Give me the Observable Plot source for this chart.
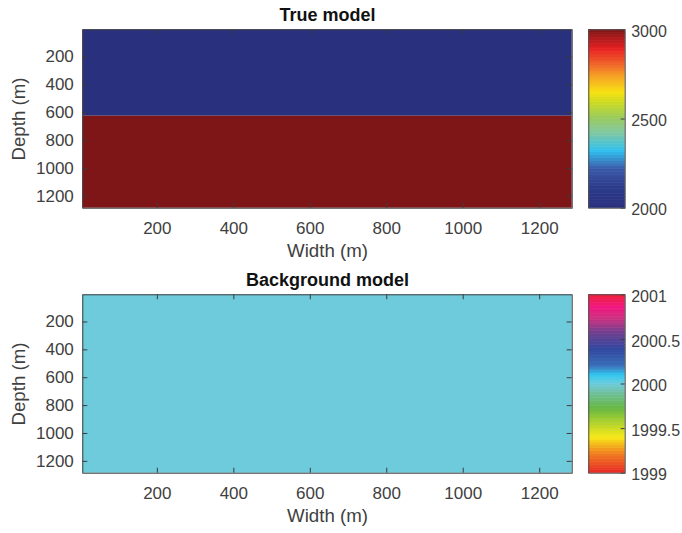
<!DOCTYPE html>
<html>
<head>
<meta charset="utf-8">
<script src="https://cdn.jsdelivr.net/npm/d3@7"></script>
<script src="https://cdn.jsdelivr.net/npm/@observablehq/plot@0.6"></script>
<style>
  html, body { margin: 0; padding: 0; background: #fff; }
  #chart { position: relative; width: 682px; height: 533px; overflow: hidden; font-family: "Liberation Sans", Arial, sans-serif; }
  #chart > svg { position: absolute; }
</style>
</head>
<body>
<div id="chart"></div>
<script>
// ---------- data ----------
const xMin = 5, xMax = 1285;          // grid extent, width (m)
const yMin = 5, yMax = 1285;          // grid extent, depth (m)
const xTicks = [200, 400, 600, 800, 1000, 1200];
const yTicks = [200, 400, 600, 800, 1000, 1200];

// True model: two layers
const trueTops = [5, 625];
const trueBottoms = [625, 1285];
const trueVelocity = [2000, 3000];

// Background model: one homogeneous layer
const bgTops = [5];
const bgBottoms = [1285];
const bgVelocity = [2000];

// colorbars
const trueDomain = [2000, 3000];
const trueColorTicks = [2000, 2500, 3000];
const bgDomain = [1999, 2001];
const bgColorTicks = [1999, 1999.5, 2000, 2000.5, 2001];

// colormap stops (fraction of domain) and colours
const trueStops  = [0, 0.12, 0.22, 0.32, 0.42, 0.51, 0.59, 0.65, 0.74, 0.81, 0.89, 1];
const trueColors = ["#29307e", "#2d3c8c", "#3a5aa8", "#31c0ef", "#80c8a4", "#9ccb5a", "#cadb22", "#f8e012", "#f5a024", "#f06028", "#e82222", "#7e1517"];
const bgStops  = [0, 0.11, 0.2, 0.29, 0.36, 0.45, 0.5, 0.55, 0.6, 0.69, 0.78, 0.87, 0.93, 1];
const bgColors = ["#e82828", "#f08020", "#f8e818", "#a8d030", "#68b840", "#70c0a0", "#6ecbdc", "#30c8f0", "#3a70b8", "#3048a0", "#6a4090", "#d03080", "#f01880", "#f02038"];

// ---------- layout ----------
const FONT = "Liberation Sans, Arial, sans-serif";
const H = 262, mTop = 29.3, mBottom = H - 207.7;
const innerH = H - mTop - mBottom;
const HW = 600, hmLeft = 82.3, hmRight = HW - 571.7;
const innerW = HW - hmLeft - hmRight;
const CBW = 122, cbLeft = 28.3, cbRight = CBW - 64.7;
const AXIS = "#3c3c3c", TEXT = "#404040";

function colorScale(domain, stops, colors) {
  return {
    type: "linear",
    domain: stops.map(s => domain[0] + s * (domain[1] - domain[0])),
    range: colors,
    interpolate: "rgb"
  };
}

function heatmap(title, tops, bottoms, values, domain, stops, colors) {
  const layers = tops.map((t, i) => ({y1: t, y2: bottoms[i], v: values[i]}));
  return Plot.plot({
    width: HW, height: H,
    marginLeft: hmLeft, marginRight: hmRight, marginTop: mTop, marginBottom: mBottom,
    style: {fontFamily: FONT, fontSize: "17px", color: TEXT, background: "transparent", overflow: "visible"},
    x: {domain: [xMin, xMax], label: null},
    y: {domain: [yMin, yMax], reverse: true, label: null},
    color: colorScale(domain, stops, colors),
    marks: [
      Plot.rect(layers, {x1: () => xMin, x2: () => xMax, y1: "y1", y2: "y2", fill: "v"}),
      Plot.ruleX(xTicks, {x: d => d, insetTop: innerH - 5, stroke: AXIS}),
      Plot.ruleX(xTicks, {x: d => d, insetBottom: innerH - 5, stroke: AXIS}),
      Plot.ruleY(yTicks, {y: d => d, insetRight: innerW - 5, stroke: AXIS}),
      Plot.ruleY(yTicks, {y: d => d, insetLeft: innerW - 5, stroke: AXIS}),
      Plot.frame({stroke: AXIS, strokeWidth: 1}),
      Plot.axisX({ticks: xTicks, tickFormat: d => String(d), tickSize: 0, tickPadding: 14, label: null, fontSize: 17}),
      Plot.axisY({ticks: yTicks, tickFormat: d => String(d), tickSize: 0, tickPadding: 9, label: null, fontSize: 17}),
      Plot.text(["Width (m)"], {frameAnchor: "bottom", lineAnchor: "middle", textAnchor: "middle", dy: 43, fontSize: 18.7, fill: TEXT}),
      Plot.text(["Depth (m)"], {frameAnchor: "left", lineAnchor: "middle", textAnchor: "middle", dx: -64, rotate: -90, fontSize: 18.7, fill: TEXT}),
      Plot.text([title], {frameAnchor: "top", lineAnchor: "middle", textAnchor: "middle", dy: -14.5, fontSize: 18, fontWeight: "bold", fill: "#111"})
    ]
  });
}

function colorbar(domain, ticks, stops, colors) {
  const n = 64, step = (domain[1] - domain[0]) / n;
  const bands = d3.range(n).map(i => ({
    y1: domain[0] + i * step, y2: domain[0] + (i + 1) * step, v: domain[0] + (i + 0.5) * step
  }));
  return Plot.plot({
    width: CBW, height: H,
    marginLeft: cbLeft, marginRight: cbRight, marginTop: mTop, marginBottom: mBottom,
    style: {fontFamily: FONT, fontSize: "16px", color: TEXT, background: "transparent", overflow: "visible"},
    x: {domain: [0, 1], axis: null},
    y: {domain, axis: null},
    color: colorScale(domain, stops, colors),
    marks: [
      Plot.rect(bands, {x1: () => 0, x2: () => 1, y1: "y1", y2: "y2", fill: "v", stroke: "v", strokeWidth: 0.6}),
      Plot.ruleY(ticks, {y: d => d, insetLeft: (CBW - cbLeft - cbRight) - 4, stroke: AXIS}),
      Plot.frame({stroke: "#505050", strokeWidth: 1}),
      Plot.text(ticks, {x: () => 1, y: d => d, text: d => String(d), dx: 6, dy: 2, textAnchor: "start", lineAnchor: "middle", fontSize: 16, fill: TEXT})
    ]
  });
}

const chart = document.getElementById("chart");
function place(svg, left, top) {
  svg.style.left = left + "px";
  svg.style.top = top + "px";
  chart.appendChild(svg);
}
const panel2Top = 294.7 - mTop;
place(heatmap("True model", trueTops, trueBottoms, trueVelocity, trueDomain, trueStops, trueColors), 0, 0);
place(colorbar(trueDomain, trueColorTicks, trueStops, trueColors), 560, 0);
place(heatmap("Background model", bgTops, bgBottoms, bgVelocity, bgDomain, bgStops, bgColors), 0, panel2Top);
place(colorbar(bgDomain, bgColorTicks, bgStops, bgColors), 560, panel2Top);
</script>
</body>
</html>
